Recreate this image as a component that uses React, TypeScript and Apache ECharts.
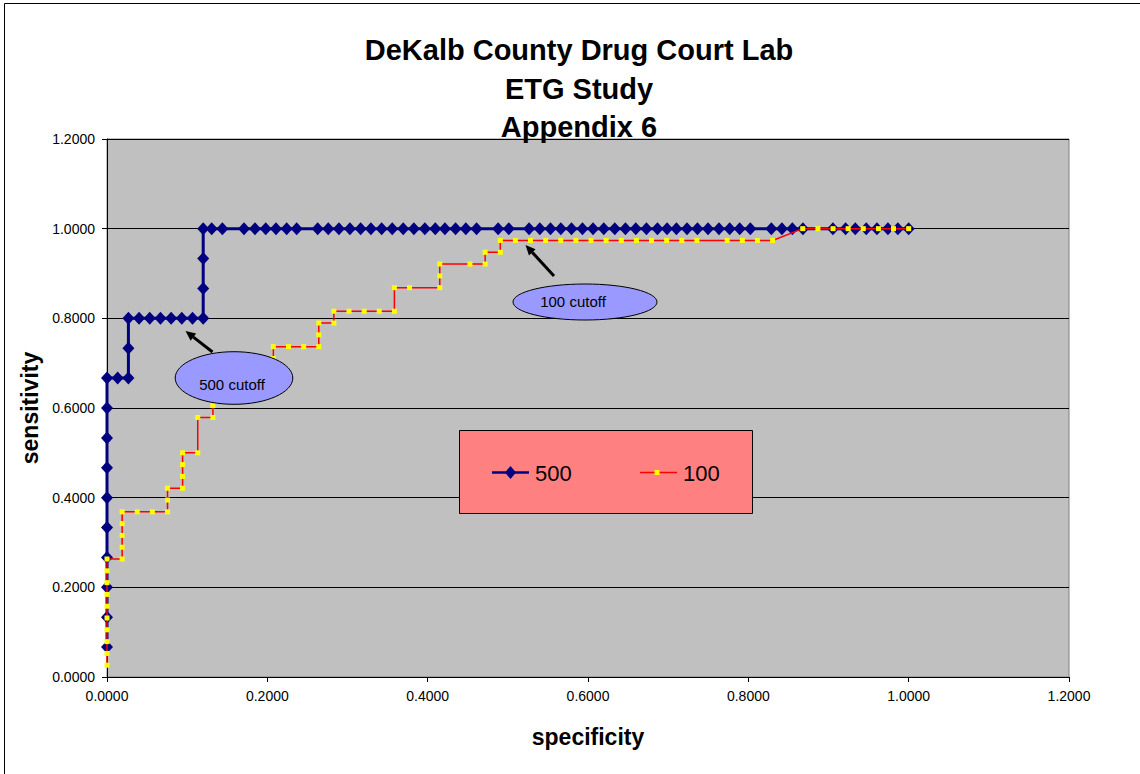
import React, { useEffect, useRef } from "react";
import * as echarts from "echarts";

const titleLines = ["DeKalb County Drug Court Lab", "ETG Study", "Appendix 6"];
const xAxisTitle = "specificity";
const yAxisTitle = "sensitivity";
const seriesNames = ["500", "100"];
const axisMin = 0;
const axisMax = 1.2;
const axisStep = 0.2;

// cutoff 500 series (x = specificity axis value, y = sensitivity)
const spec500 = [
  0, 0, 0, 0, 0, 0, 0, 0, 0, 0,
  0.0133, 0.0267, 0.0267, 0.0267,
  0.04, 0.0533, 0.0667, 0.08, 0.0933, 0.1067, 0.12,
  0.12, 0.12, 0.12,
  0.1306, 0.1439, 0.1709, 0.1846, 0.198, 0.2108, 0.2241, 0.2366, 0.2628, 0.276,
  0.2893, 0.303, 0.3164, 0.3292, 0.3426, 0.3558, 0.3695, 0.3828, 0.3965, 0.4095,
  0.4215, 0.4348, 0.4476, 0.461, 0.4879, 0.5012, 0.5265, 0.5399, 0.5532, 0.5661,
  0.5794, 0.5931, 0.6063, 0.6197, 0.6334, 0.6467, 0.6596, 0.6729, 0.6866, 0.6986,
  0.7103, 0.7235, 0.7365, 0.7497, 0.7634, 0.7767, 0.7892, 0.8025, 0.8287, 0.8419,
  0.8549, 0.8681, 0.9055, 0.9213, 0.9334, 0.9471, 0.9604, 0.9741, 0.9865, 1.0,
];
const sens500 = [
  0.0667, 0.1333, 0.2, 0.2667, 0.3333, 0.4, 0.4667, 0.5333, 0.6, 0.6667,
  0.6667, 0.6667, 0.7333, 0.8,
  0.8, 0.8, 0.8, 0.8, 0.8, 0.8, 0.8,
  0.8667, 0.9333, 1.0,
  1, 1, 1, 1, 1, 1, 1, 1, 1, 1,
  1, 1, 1, 1, 1, 1, 1, 1, 1, 1,
  1, 1, 1, 1, 1, 1, 1, 1, 1, 1,
  1, 1, 1, 1, 1, 1, 1, 1, 1, 1,
  1, 1, 1, 1, 1, 1, 1, 1, 1, 1,
  1, 1, 1, 1, 1, 1, 1, 1, 1, 1,
];

// cutoff 100 series
const spec100 = [
  0, 0, 0, 0, 0, 0, 0, 0, 0, 0,
  0.0189, 0.0189, 0.0189, 0.0189, 0.0189,
  0.0377, 0.0566, 0.0755, 0.0755, 0.0755,
  0.0943, 0.0943, 0.0943, 0.0943,
  0.1132, 0.1132, 0.1321, 0.1321,
  0.1321, 0.1509, 0.1698, 0.1698, 0.1887, 0.1887, 0.2075, 0.2075, 0.2075,
  0.2264, 0.2453, 0.2642, 0.2642, 0.2642,
  0.283, 0.283,
  0.3019, 0.3208, 0.3396, 0.3585, 0.3585,
  0.3774, 0.4151, 0.4151, 0.4151,
  0.4528, 0.4717, 0.4717, 0.4906, 0.4906,
  0.5094, 0.5283, 0.5472, 0.566, 0.5849, 0.6038, 0.6226, 0.6415, 0.6604,
  0.6792, 0.6981, 0.717, 0.7358, 0.7736, 0.7925, 0.8113, 0.8302,
  0.8679, 0.8868, 0.9057, 0.9245, 0.9434, 0.9623, 0.9811, 1.0,
];
const sens100 = [
  0.0263, 0.0526, 0.0789, 0.1053, 0.1316, 0.1579, 0.1842, 0.2105, 0.2368, 0.2632,
  0.2632, 0.2895, 0.3158, 0.3421, 0.3684,
  0.3684, 0.3684, 0.3684, 0.3947, 0.4211,
  0.4211, 0.4474, 0.4737, 0.5,
  0.5, 0.5789, 0.5789, 0.6053,
  0.6316, 0.6316, 0.6316, 0.6579, 0.6579, 0.6842, 0.6842, 0.7105, 0.7368,
  0.7368, 0.7368, 0.7368, 0.7632, 0.7895,
  0.7895, 0.8158,
  0.8158, 0.8158, 0.8158, 0.8158, 0.8684,
  0.8684, 0.8684, 0.8947, 0.9211,
  0.9211, 0.9211, 0.9474, 0.9474, 0.9737,
  0.9737, 0.9737, 0.9737, 0.9737, 0.9737, 0.9737, 0.9737, 0.9737, 0.9737,
  0.9737, 0.9737, 0.9737, 0.9737, 0.9737, 0.9737, 0.9737, 0.9737,
  1, 1, 1, 1, 1, 1, 1, 1,
];

const annotationTexts = ["500 cutoff", "100 cutoff"];

const FONT = "'Liberation Sans', Arial, Helvetica, sans-serif";

function zip(xs: number[], ys: number[]) {
  return xs.map((x, i) => [x, ys[i]]);
}

function arrow(x1: number, y1: number, x2: number, y2: number) {
  const dx = x2 - x1;
  const dy = y2 - y1;
  const len = Math.sqrt(dx * dx + dy * dy);
  const ux = dx / len;
  const uy = dy / len;
  const hl = 10;
  const hw = 4.5;
  const bx = x2 - ux * hl;
  const by = y2 - uy * hl;
  const nx = -uy;
  const ny = ux;
  return [
    {
      type: "line",
      z: 20,
      silent: true,
      shape: { x1, y1, x2: bx, y2: by },
      style: { stroke: "#000", lineWidth: 3 },
    },
    {
      type: "polygon",
      z: 20,
      silent: true,
      shape: {
        points: [
          [x2, y2],
          [bx + nx * hw, by + ny * hw],
          [bx - nx * hw, by - ny * hw],
        ],
      },
      style: { fill: "#000" },
    },
  ];
}

export default function App() {
  const ref = useRef<HTMLDivElement>(null);

  useEffect(() => {
    if (!ref.current) return;
    const chart = echarts.init(ref.current, null, { renderer: "svg" });

    const titleYs = [50, 89, 127];
    const graphic: any[] = [
      {
        type: "rect",
        z: 0,
        silent: true,
        shape: { x: 4.5, y: 3.5, width: 1150, height: 800 },
        style: { fill: "none", stroke: "#000", lineWidth: 1 },
      },
      ...titleLines.map((t, i) => ({
        type: "text",
        z: 20,
        x: 579,
        y: titleYs[i],
        style: {
          text: t,
          font: `bold 29px ${FONT}`,
          fill: "#000",
          align: "center",
          verticalAlign: "middle",
        },
      })),
      // annotations
      {
        type: "ellipse",
        z: 20,
        shape: { cx: 234, cy: 378, rx: 58.8, ry: 26.3 },
        style: { fill: "#9999FF", stroke: "#000", lineWidth: 1 },
      },
      {
        type: "text",
        z: 21,
        x: 232,
        y: 384,
        style: {
          text: annotationTexts[0],
          font: `15px ${FONT}`,
          fill: "#000",
          align: "center",
          verticalAlign: "middle",
        },
      },
      ...arrow(212.5, 352, 185.5, 331),
      {
        type: "ellipse",
        z: 20,
        shape: { cx: 585, cy: 302, rx: 72, ry: 18 },
        style: { fill: "#9999FF", stroke: "#000", lineWidth: 1 },
      },
      {
        type: "text",
        z: 21,
        x: 573,
        y: 301,
        style: {
          text: annotationTexts[1],
          font: `15px ${FONT}`,
          fill: "#000",
          align: "center",
          verticalAlign: "middle",
        },
      },
      ...arrow(554, 276, 525.5, 245),
      // legend
      {
        type: "rect",
        z: 20,
        shape: { x: 459.5, y: 430.5, width: 293, height: 83 },
        style: { fill: "#FF8080", stroke: "#000", lineWidth: 1 },
      },
      {
        type: "line",
        z: 21,
        shape: { x1: 492, y1: 472.5, x2: 529, y2: 472.5 },
        style: { stroke: "#000080", lineWidth: 2.5 },
      },
      {
        type: "polygon",
        z: 22,
        shape: {
          points: [
            [510.5, 466],
            [516, 472.5],
            [510.5, 479],
            [505, 472.5],
          ],
        },
        style: { fill: "#000080" },
      },
      {
        type: "text",
        z: 21,
        x: 535,
        y: 473,
        style: {
          text: seriesNames[0],
          font: `22px ${FONT}`,
          fill: "#000",
          align: "left",
          verticalAlign: "middle",
        },
      },
      {
        type: "line",
        z: 21,
        shape: { x1: 640, y1: 472.5, x2: 677, y2: 472.5 },
        style: { stroke: "#FF0000", lineWidth: 1.5 },
      },
      {
        type: "rect",
        z: 22,
        shape: { x: 654.5, y: 470, width: 5, height: 5 },
        style: { fill: "#FFFF00" },
      },
      {
        type: "text",
        z: 21,
        x: 683,
        y: 473,
        style: {
          text: seriesNames[1],
          font: `22px ${FONT}`,
          fill: "#000",
          align: "left",
          verticalAlign: "middle",
        },
      },
    ];

    chart.setOption({
      animation: false,
      backgroundColor: "#FFFFFF",
      textStyle: { fontFamily: FONT },
      grid: {
        left: 107,
        top: 139,
        width: 962,
        height: 538,
        show: true,
        backgroundColor: "#C0C0C0",
        borderColor: "#808080",
        borderWidth: 1,
      },
      xAxis: {
        type: "value",
        min: axisMin,
        max: axisMax,
        interval: axisStep,
        name: xAxisTitle,
        nameLocation: "middle",
        nameGap: 48,
        nameTextStyle: { fontSize: 23, fontWeight: "bold", color: "#000", fontFamily: FONT },
        axisLine: { show: true, onZero: false, lineStyle: { color: "#000", width: 1 } },
        axisTick: { show: true, length: 5, lineStyle: { color: "#000" } },
        axisLabel: {
          color: "#000",
          fontSize: 14,
          fontFamily: FONT,
          margin: 12,
          formatter: (v: number) => v.toFixed(4),
        },
        splitLine: { show: false },
      },
      yAxis: {
        type: "value",
        min: axisMin,
        max: axisMax,
        interval: axisStep,
        name: yAxisTitle,
        nameLocation: "middle",
        nameGap: 64,
        nameTextStyle: { fontSize: 23, fontWeight: "bold", color: "#000", fontFamily: FONT },
        axisLine: { show: true, onZero: false, lineStyle: { color: "#000", width: 1 } },
        axisTick: { show: true, length: 5, lineStyle: { color: "#000" } },
        axisLabel: {
          color: "#000",
          fontSize: 14,
          fontFamily: FONT,
          margin: 12,
          formatter: (v: number) => v.toFixed(4),
        },
        splitLine: { show: true, lineStyle: { color: "#000", width: 1 } },
      },
      series: [
        {
          type: "line",
          name: seriesNames[0],
          data: zip(spec500, sens500),
          symbol: "diamond",
          symbolSize: [12, 13],
          clip: false,
          itemStyle: { color: "#000080" },
          lineStyle: { color: "#000080", width: 3 },
          z: 3,
        },
        {
          type: "line",
          name: seriesNames[1],
          data: zip(spec100, sens100),
          symbol: "rect",
          symbolSize: 5,
          clip: false,
          itemStyle: { color: "#FFFF00" },
          lineStyle: { color: "#FF0000", width: 1.5 },
          z: 4,
        },
      ],
      graphic,
    });

    return () => {
      chart.dispose();
    };
  }, []);

  return (
    <div
      ref={ref}
      style={{ position: "absolute", left: 0, top: 0, width: 1140, height: 774 }}
    />
  );
}
